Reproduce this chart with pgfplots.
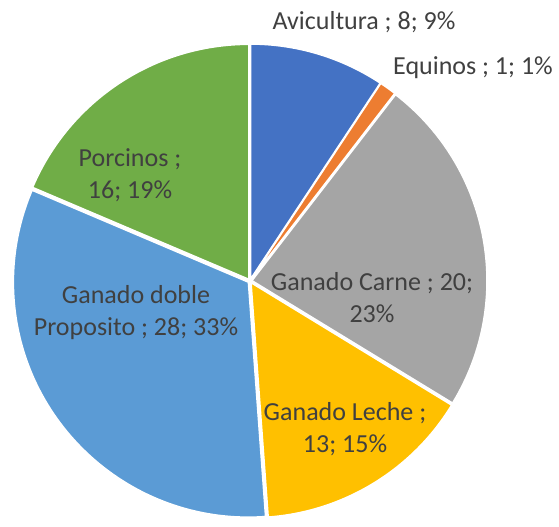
\documentclass[border=0pt]{standalone}
\usepackage{fontspec}
\setmainfont{Carlito}
\usepackage{pgfplots}
\usepackage{pgfplotstable}
\pgfplotsset{compat=1.18}
\definecolor{s0}{HTML}{4472C4}
\definecolor{s1}{HTML}{ED7D31}
\definecolor{s2}{HTML}{A5A5A5}
\definecolor{s3}{HTML}{FFC000}
\definecolor{s4}{HTML}{5B9BD5}
\definecolor{s5}{HTML}{70AD47}
\definecolor{lbl}{HTML}{404040}
\pgfplotstableread{
value
8
1
20
13
28
16
}\piedata
\begin{document}
\begin{tikzpicture}
\begin{axis}[scale only axis, width=559pt, height=517pt,
  xmin=0, xmax=559, ymin=0, ymax=517, hide axis, clip=false]
\path (axis cs:0,0) rectangle (axis cs:559,517);
\gdef\cum{0}
\pgfplotsinvokeforeach{0,1,2,3,4,5}{
  \pgfplotstablegetelem{#1}{value}\of\piedata
  \pgfmathsetmacro\va{\pgfplotsretval}
  \pgfmathsetmacro\aA{90-\cum/86*360}
  \pgfmathsetmacro\aB{90-(\cum+\va)/86*360}
  \pgfmathsetmacro\aM{(\aA+\aB)/2}
  \pgfmathsetmacro\newcum{\cum+\va}
  \xdef\cum{\newcum}
  \edef\pieslice{\noexpand\fill[s#1, draw=white, line width=1.5pt] ([shift={(\aM:2pt)}]axis cs:250,236) -- ++(\aA:235pt) arc[start angle=\aA, end angle=\aB, radius=235pt] -- cycle;}
  \pieslice
}
\tikzset{lab/.style={text=lbl, font=\fontsize{26}{32}\selectfont, align=center, inner sep=0pt}}
\node[lab] at (axis cs:364,495) {Avicultura ; 8; 9\%};
\node[lab] at (axis cs:473,449) {Equinos ; 1; 1\%};
\node[lab] at (axis cs:130,342) {Porcinos ;\\16; 19\%};
\node[lab] at (axis cs:136,204) {Ganado doble\\Proposito ; 28; 33\%};
\node[lab] at (axis cs:372,219) {Ganado Carne ; 20;\\23\%};
\node[lab] at (axis cs:345,88) {Ganado Leche ;\\13; 15\%};
\end{axis}
\end{tikzpicture}
\end{document}
